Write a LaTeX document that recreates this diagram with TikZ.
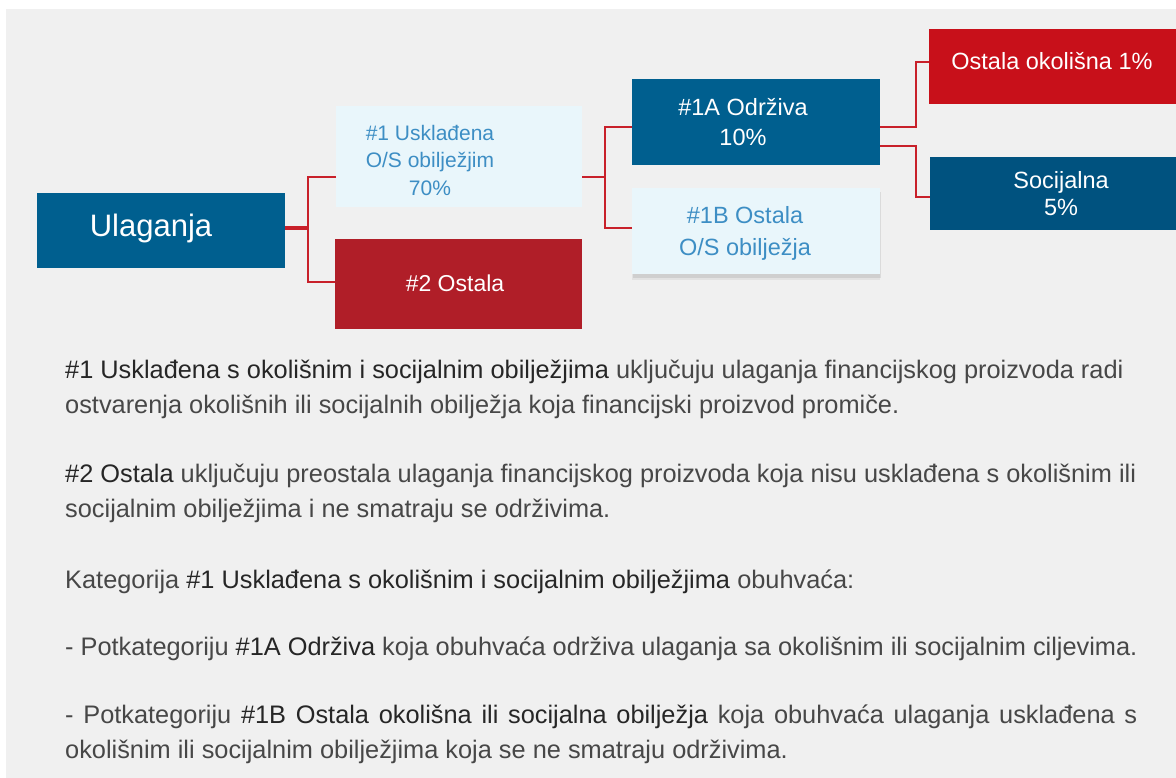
\documentclass[tikz,border=0pt]{standalone}
\usepackage{fontspec}
\setmainfont{Liberation Sans}
\usetikzlibrary{shadows}
\definecolor{bggray}{HTML}{F0F0F0}
\definecolor{boxblue}{HTML}{005F8F}
\definecolor{boxblue2}{HTML}{00527F}
\definecolor{boxlight}{HTML}{E9F6FB}
\definecolor{lighttxt}{HTML}{3D8EC4}
\definecolor{boxred}{HTML}{B01E28}
\definecolor{boxred2}{HTML}{C8101A}
\definecolor{connred}{HTML}{C8202A}
\definecolor{txtreg}{HTML}{474747}
\definecolor{txtdark}{HTML}{262626}
\newcommand\dk[1]{\textcolor{txtdark}{#1}}
\begin{document}
\begin{tikzpicture}[x=1pt,y=-1pt,
  box/.style={draw=none,inner sep=0pt,anchor=north west},
  boxtxt/.style={align=center,inner sep=0pt},
  conn/.style={draw=connred,line width=2pt},
  body/.style={anchor=base west,inner sep=0pt,text=txtreg,font=\fontsize{25.35}{30}\selectfont}]
\path[use as bounding box,fill=white] (0,0) rectangle (1176,778);
\fill[bggray] (6,9) rectangle (1176,778);
% boxes
\node[box,fill=boxblue,minimum width=248pt,minimum height=75pt] (ul) at (37,193) {};
\node[boxtxt,text=white,font=\fontsize{31}{36}\selectfont] (ult) at (151,228) {Ulaganja};
\node[box,fill=boxlight,minimum width=246pt,minimum height=101pt] (n1) at (336,106) {};
\node[boxtxt,text=lighttxt,font=\fontsize{21}{27.5}\selectfont] (n1t) at (430,160) {\#1 Usklađena\\O/S obilježjim\\70\%};
\node[box,fill=boxred,minimum width=247pt,minimum height=90pt] (n2) at (335,239) {};
\node[boxtxt,text=white,font=\fontsize{23}{28}\selectfont] (n2t) at (455,283) {\#2 Ostala};
\node[box,fill=boxblue,minimum width=248pt,minimum height=86pt] (n1a) at (632,79) {};
\node[boxtxt,text=white,font=\fontsize{23.5}{30}\selectfont] (n1at) at (743,122) {\#1A Održiva\\10\%};
\node[box,fill=boxlight,minimum width=248pt,minimum height=86pt,
  drop shadow={opacity=0.18,shadow xshift=1pt,shadow yshift=-4pt},
  drop shadow={opacity=0.12,shadow xshift=0pt,shadow yshift=-6pt}] (n1b) at (632,188) {};
\node[boxtxt,text=lighttxt,font=\fontsize{23.5}{32}\selectfont] (n1bt) at (745,233) {\#1B Ostala\\O/S obilježja};
\node[box,fill=boxred2,minimum width=250pt,minimum height=75pt] (oo) at (929,29) {};
\node[boxtxt,text=white,font=\fontsize{23.5}{28}\selectfont] (oot) at (1052,61) {Ostala okolišna 1\%};
\node[box,fill=boxblue2,minimum width=250pt,minimum height=73pt] (so) at (930,157) {};
\node[boxtxt,text=white,font=\fontsize{23.5}{27}\selectfont] (sot) at (1061,194) {Socijalna\\5\%};
% connectors
\coordinate (j1) at (308,228);
\coordinate (j2) at (605,177);
\coordinate (j3) at (916,127);
\coordinate (j4) at (916,146);
\draw[conn,line width=4pt] (ul.east |- j1) -- (j1);
\draw[conn] (n1.west |- 0,177) -| (j1) |- (n2.west |- 0,282);
\draw[conn] (n1.east |- j2) -- (j2);
\draw[conn] (n1a.west |- 0,127) -| (j2) |- (n1b.west |- 0,228);
\draw[conn] (n1a.east |- j3) -- (j3) |- (oo.west |- 0,62);
\draw[conn] (n1a.east |- j4) -- (j4) |- (so.west |- 0,197);
% body text
\node[body] (p1a) at (65,378) {\dk{\#1 Usklađena s okolišnim i socijalnim obilježjima} uključuju ulaganja financijskog proizvoda radi};
\node[body] (p1b) at (65,413) {ostvarenja okolišnih ili socijalnih obilježja koja financijski proizvod promiče.};
\node[body] (p2a) at (65,482) {\dk{\#2 Ostala} uključuju preostala ulaganja financijskog proizvoda koja nisu usklađena s okolišnim ili};
\node[body] (p2b) at (65,517) {socijalnim obilježjima i ne smatraju se održivima.};
\node[body] (p3) at (65,588) {Kategorija \dk{\#1 Usklađena s okolišnim i socijalnim obilježjima} obuhvaća:};
\node[body] (p4) at (65,655) {- Potkategoriju \dk{\#1A Održiva} koja obuhvaća održiva ulaganja sa okolišnim ili socijalnim ciljevima.};
\node[body] (p5a) at (65,723) {\makebox[1072pt][s]{- Potkategoriju \dk{\#1B Ostala okolišna ili socijalna obilježja} koja obuhvaća ulaganja usklađena s}};
\node[body] (p5b) at (65,758) {okolišnim ili socijalnim obilježjima koja se ne smatraju održivima.};
\end{tikzpicture}
\end{document}
